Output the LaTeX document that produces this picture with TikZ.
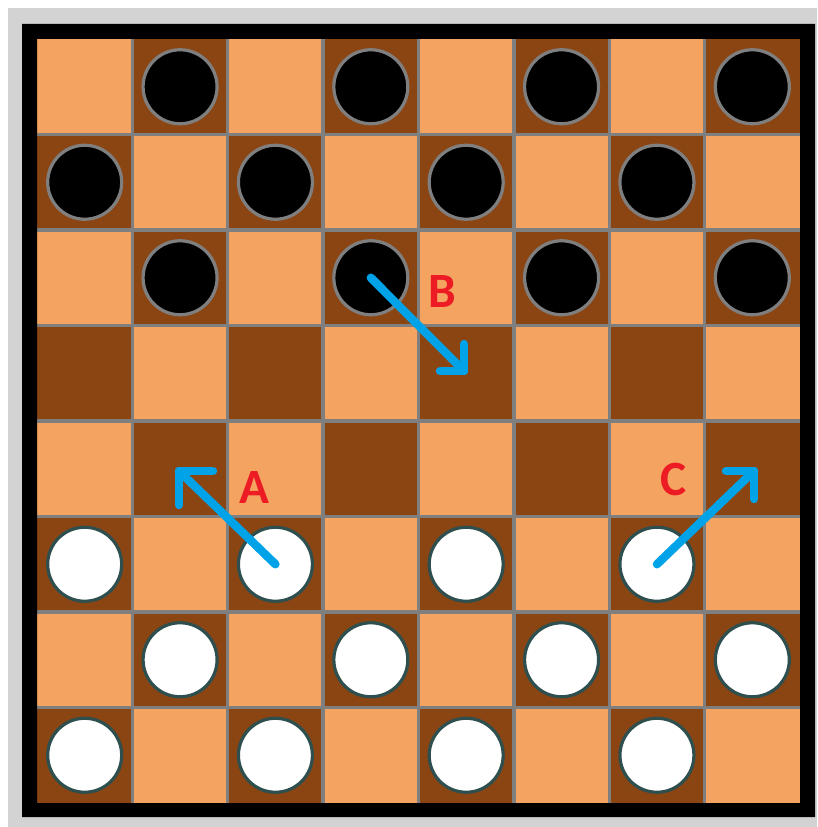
\documentclass[tikz,border=0pt]{standalone}
\usepackage{fontspec}
\setmainfont{Carlito}
\definecolor{lightsq}{HTML}{F4A460}
\definecolor{darksq}{HTML}{8B4513}
\definecolor{gridgray}{HTML}{7F7F7F}
\definecolor{slate}{HTML}{2F4F4F}
\definecolor{arrowblue}{HTML}{00A2E8}
\definecolor{labelred}{HTML}{ED1C24}
\definecolor{bggray}{HTML}{D3D3D3}
\begin{document}
\begin{tikzpicture}[x=0.75pt,y=-0.75pt,
  gridline/.style={draw=gridgray,line width=2.6pt},
  blackpiece/.style={circle,fill=black,draw=gridgray,line width=2.4pt,minimum size=55.5pt,inner sep=0pt},
  whitepiece/.style={circle,fill=white,draw=slate,line width=2.4pt,minimum size=55.5pt,inner sep=0pt},
  arrowline/.style={draw=arrowblue,line width=6.3pt,line cap=round,line join=round},
  movelabel/.style={text=labelred,font=\fontsize{37}{40}\selectfont\bfseries,inner sep=0pt}
]
\useasboundingbox (0,0) rectangle (817,827);
\fill[white] (0,0) rectangle (817,827);
\fill[bggray] (8,8) rectangle (817,827);
% squares
\foreach \r in {0,...,7}{
  \foreach \c in {0,...,7}{
    \pgfmathsetmacro\sqx{37+\c*95.375}
    \pgfmathsetmacro\sqy{39+\r*95.5}
    \pgfmathtruncatemacro\sqodd{mod(\r+\c,2)}
    \ifnum\sqodd=1
      \fill[darksq] (\sqx,\sqy) rectangle ++(95.375,95.5);
    \else
      \fill[lightsq] (\sqx,\sqy) rectangle ++(95.375,95.5);
    \fi
  }
}
% grid lines
\foreach \k in {1,...,7}{
  \draw[gridline] ({37+\k*95.375},39) -- ({37+\k*95.375},803);
  \draw[gridline] (37,{39+\k*95.5}) -- (800,{39+\k*95.5});
}
% frame
\fill[black,even odd rule] (22,24) rectangle (815,817) (37,39) rectangle (800,803);
% pieces
\foreach \r in {0,1,2}{
  \foreach \c in {0,...,7}{
    \pgfmathtruncatemacro\sqodd{mod(\r+\c,2)}
    \ifnum\sqodd=1
      \node[blackpiece] (p-\r-\c) at ({37+(\c+0.5)*95.375},{39+(\r+0.5)*95.5}) {};
    \fi
  }
}
\foreach \r in {5,6,7}{
  \foreach \c in {0,...,7}{
    \pgfmathtruncatemacro\sqodd{mod(\r+\c,2)}
    \ifnum\sqodd=1
      \node[whitepiece] (p-\r-\c) at ({37+(\c+0.5)*95.375},{39+(\r+0.5)*95.5}) {};
    \fi
  }
}
% arrows
\coordinate (tA) at (179,471);
\coordinate (tB) at (464,371);
\coordinate (tC) at (754,471);
\draw[arrowline] (p-5-2.center) -- (tA);
\draw[arrowline] (tA) ++(34,0) -- (tA) -- ++(0,34);
\draw[arrowline] (p-2-3.center) -- (tB);
\draw[arrowline] (tB) ++(-24,0) -- (tB) -- ++(0,-27);
\draw[arrowline] (p-5-6.center) -- (tC);
\draw[arrowline] (tC) ++(-28,0) -- (tC) -- ++(0,28);
% labels
\node[movelabel] (labA) at (254,487) {A};
\node[movelabel] (labB) at (442,292) {B};
\node[movelabel] (labC) at (674,479) {C};
\end{tikzpicture}
\end{document}
